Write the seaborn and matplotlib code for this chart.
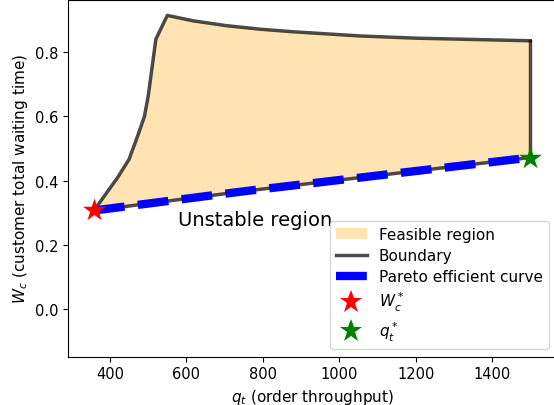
import numpy as np
import pandas as pd
import matplotlib
matplotlib.use("Agg")
import matplotlib.pyplot as plt
from matplotlib.lines import Line2D
import seaborn as sns

# Upper boundary of feasible region
upper_q = [358, 420, 450, 474, 490, 500, 520, 550, 618, 705, 793, 879, 1054, 1203, 1500]
upper_w = [0.307, 0.41, 0.467, 0.545, 0.60, 0.664, 0.841, 0.915, 0.898, 0.883, 0.872, 0.864, 0.851, 0.844, 0.836]
# Lower boundary (Pareto efficient curve)
lower_q = [358, 758, 1500]
lower_w = [0.307, 0.368, 0.472]
# Optimal points
wc_star = (358, 0.307)
qt_star = (1500, 0.472)

W, H = 554, 406
fig = plt.figure(figsize=(W / 100, H / 100), dpi=100)
left, right, bottom, top = 68.3, 556.6, 357.5, 1.0
ax = fig.add_axes([left / W, (H - bottom) / H, (right - left) / W, (bottom - top) / H])

# Feasible region
poly_x = np.concatenate([upper_q, lower_q[::-1]])
poly_y = np.concatenate([upper_w, lower_w[::-1]])
ax.fill(poly_x, poly_y, color="orange", alpha=0.3, linewidth=0, label="Feasible region")

up = pd.DataFrame({"q": upper_q, "w": upper_w})
vert = pd.DataFrame({"q": [upper_q[-1], lower_q[-1]], "w": [upper_w[-1], lower_w[-1]]})
low = pd.DataFrame({"q": lower_q, "w": lower_w})

sns.lineplot(data=up, x="q", y="w", sort=False, estimator=None, color="k", alpha=0.7,
             linewidth=2.5, label="Boundary", ax=ax)
sns.lineplot(data=vert, x="q", y="w", sort=False, estimator=None, color="k", alpha=0.7,
             linewidth=2.5, ax=ax)
sns.lineplot(data=low, x="q", y="w", sort=False, estimator=None, color="k", alpha=0.7,
             linewidth=2.5, ax=ax)
sns.lineplot(data=low, x="q", y="w", sort=False, estimator=None, color="blue",
             linewidth=6, linestyle="--", label="Pareto efficient curve", ax=ax)

sns.scatterplot(x=[wc_star[0]], y=[wc_star[1]], marker="*", s=300, color="red",
                linewidth=0, ax=ax, zorder=5)
sns.scatterplot(x=[qt_star[0]], y=[qt_star[1]], marker="*", s=300, color="green",
                linewidth=0, ax=ax, zorder=5)

ax.text(578, 0.262, "Unstable region", fontsize=14)

ax.set_xlim(290.8, 1569)
ax.set_ylim(-0.148, 0.963)
ax.set_xticks([400, 600, 800, 1000, 1200, 1400])
ax.set_xlabel(r"$q_t$ (order throughput)", fontsize=11)
ax.set_ylabel(r"$W_c$ (customer total waiting time)", fontsize=11)
ax.tick_params(labelsize=10.5)

handles, labels = ax.get_legend_handles_labels()
hmap = dict(zip(labels, handles))
hmap[r"$W_c^*$"] = Line2D([], [], marker="*", markersize=17, color="red", linestyle="none",
                          markeredgewidth=0)
hmap[r"$q_t^*$"] = Line2D([], [], marker="*", markersize=17, color="green", linestyle="none",
                          markeredgewidth=0)
order = ["Feasible region", "Boundary", "Pareto efficient curve", r"$W_c^*$", r"$q_t^*$"]
ax.legend([hmap[l] for l in order], order, loc="lower right", fontsize=11, labelspacing=0.4)

fig.savefig("out.png", dpi=100)
